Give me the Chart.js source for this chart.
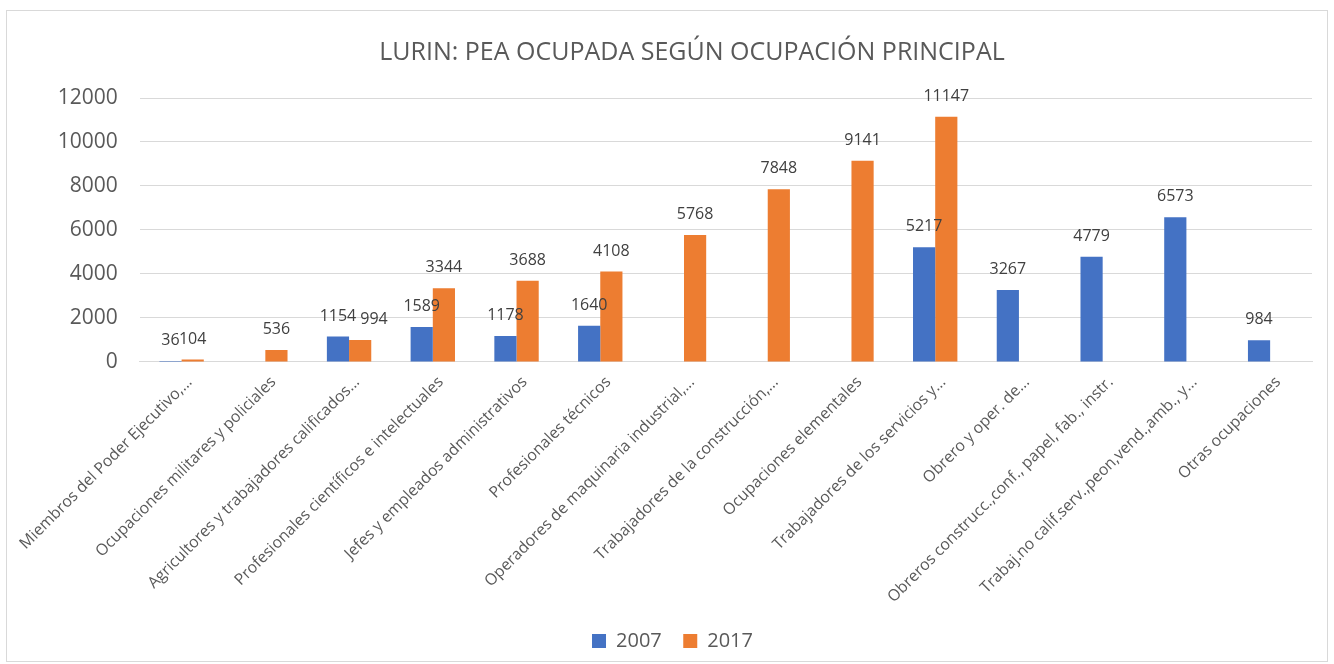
<!DOCTYPE html>
<html>
<head>
<meta charset="utf-8">
<script src="https://cdn.jsdelivr.net/npm/chart.js@4"></script>
<style>
  body { margin: 0; background: #fff; }
  #box {
    position: absolute; left: 6px; top: 10px;
    width: 1320px; height: 650px;
    border: 1px solid #d9d9d9;
  }
</style>
</head>
<body>
<div id="box"><canvas id="peaChart"></canvas></div>
<script>
const categories = [
    'Miembros del Poder Ejecutivo,...',
    'Ocupaciones militares y policiales',
    'Agricultores y trabajadores calificados...',
    'Profesionales científicos e intelectuales',
    'Jefes y empleados administrativos',
    'Profesionales técnicos',
    'Operadores de maquinaria industrial,...',
    'Trabajadores de la construcción,...',
    'Ocupaciones elementales',
    'Trabajadores de los servicios y...',
    'Obrero y oper. de...',
    'Obreros construcc.,conf., papel, fab., instr.',
    'Trabaj.no calif.serv.,peon,vend.,amb., y...',
    'Otras ocupaciones'
];
const values2007 = [36, null, 1154, 1589, 1178, 1640, null, null, null, 5217, 3267, 4779, 6573, 984];
const values2017 = [104, 536, 994, 3344, 3688, 4108, 5768, 7848, 9141, 11147, null, null, null, null];
const yTicks = [0, 2000, 4000, 6000, 8000, 10000, 12000];
const chartTitle = 'LURIN: PEA OCUPADA SEGÚN OCUPACIÓN PRINCIPAL';

const FONT = "'Open Sans', sans-serif";
const GREY = '#595959';

// value labels over each bar; the 2017 label steps right if it would
// run into the 2007 label of the same category
const barLabels = {
    id: 'barLabels',
    afterDatasetsDraw(chart) {
        const ctx = chart.ctx;
        ctx.save();
        ctx.font = '16px ' + FONT;
        ctx.fillStyle = '#404040';
        ctx.textAlign = 'center';
        ctx.textBaseline = 'alphabetic';
        const prevRight = [];
        const prevY = [];
        chart.data.datasets.forEach((ds, i) => {
            const meta = chart.getDatasetMeta(i);
            meta.data.forEach((bar, j) => {
                const v = ds.data[j];
                if (v == null) return;
                const txt = String(v);
                const w = ctx.measureText(txt).width;
                let x = bar.x;
                const y = bar.y - 16;
                if (prevRight[j] != null && Math.abs(prevY[j] - y) < 16) {
                    const overlap = prevRight[j] - (x - w / 2);
                    if (overlap > 2) x = prevRight[j] + 4 + w / 2;
                }
                ctx.fillText(txt, x, y);
                prevRight[j] = x + w / 2;
                prevY[j] = y;
            });
        });
        ctx.restore();
    }
};

// title drawn a bit right of centre, like the original
const titleText = {
    id: 'titleText',
    afterDraw(chart) {
        const ctx = chart.ctx;
        ctx.save();
        ctx.font = '25px ' + FONT;
        ctx.fillStyle = GREY;
        ctx.textAlign = 'center';
        ctx.textBaseline = 'middle';
        ctx.fillText(chartTitle, chart.width / 2 + 25, 42);
        ctx.restore();
    }
};

const ctx = document.getElementById('peaChart').getContext('2d');
new Chart(ctx, {
    type: 'bar',
    data: {
        labels: categories,
        datasets: [{
            label: '2007',
            data: values2007,
            backgroundColor: '#4472C4'
        }, {
            label: '2017',
            data: values2017,
            backgroundColor: '#ED7D31'
        }]
    },
    options: {
        responsive: true,
        maintainAspectRatio: false,
        animation: false,
        categoryPercentage: 0.53,
        barPercentage: 1.0,
        layout: { padding: { left: 26, right: 15, top: 87, bottom: 0 } },
        plugins: {
            title: { display: false },
            legend: {
                position: 'bottom',
                labels: {
                    color: GREY,
                    font: { family: FONT, size: 20 },
                    boxWidth: 14,
                    boxHeight: 14,
                    padding: 21.5
                }
            },
            tooltip: { enabled: false }
        },
        scales: {
            x: {
                grid: { display: false },
                border: { color: '#d9d9d9', width: 1 },
                ticks: {
                    color: GREY,
                    font: { family: FONT, size: 15.8 },
                    minRotation: 45,
                    maxRotation: 45,
                    autoSkip: false,
                    labelOffset: 8
                }
            },
            y: {
                min: 0,
                max: yTicks[yTicks.length - 1],
                afterBuildTicks(axis) {
                    axis.ticks = yTicks.map(v => ({ value: v }));
                },
                grid: { color: '#d9d9d9', drawTicks: false },
                border: { display: false },
                ticks: {
                    color: GREY,
                    font: { family: FONT, size: 21 },
                    padding: 22,
                    callback: v => String(v)
                }
            }
        }
    },
    plugins: [barLabels, titleText]
});
</script>
</body>
</html>
